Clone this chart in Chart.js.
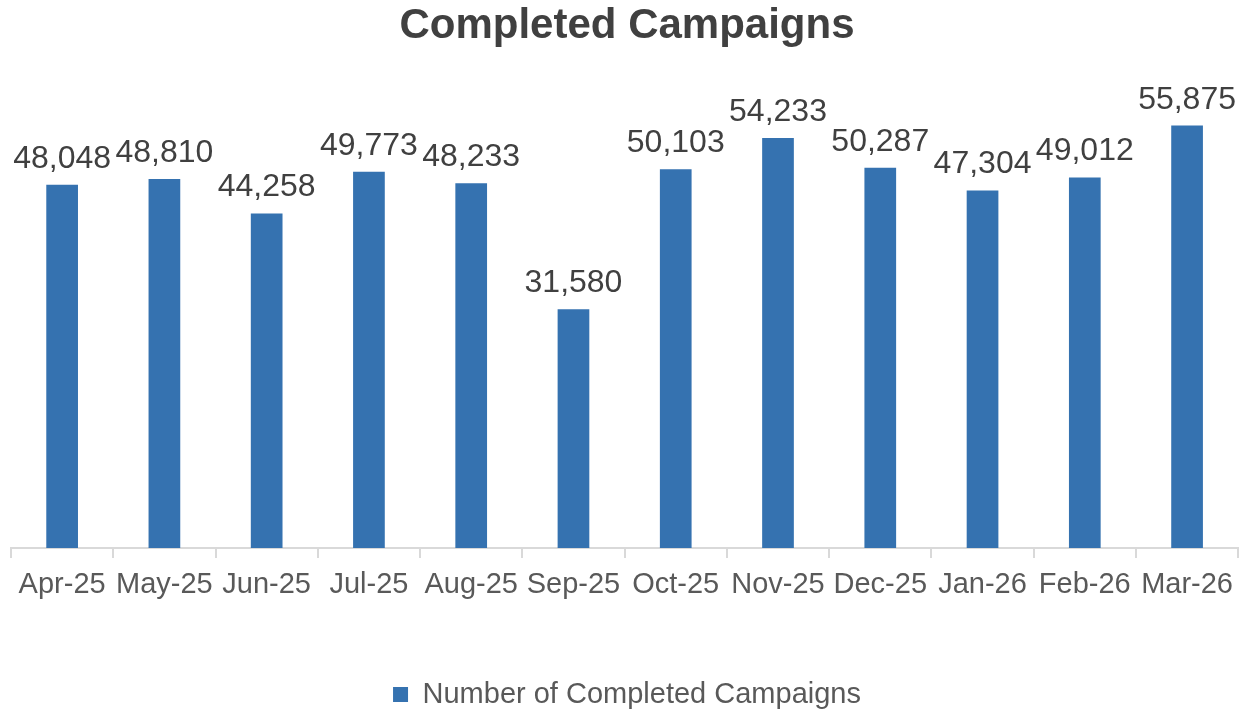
<!DOCTYPE html>
<html>
<head>
<meta charset="utf-8">
<script src="https://cdn.jsdelivr.net/npm/chart.js@4"></script>
<style>
  html, body { margin: 0; padding: 0; background: #ffffff; }
  #wrap { width: 1243px; height: 709px; }
</style>
</head>
<body>
<div id="wrap"><canvas id="campaignChart"></canvas></div>
<script>
// chart data
const months = ["Apr-25", "May-25", "Jun-25", "Jul-25", "Aug-25", "Sep-25",
                "Oct-25", "Nov-25", "Dec-25", "Jan-26", "Feb-26", "Mar-26"];
const completedCampaigns = [48048, 48810, 44258, 49773, 48233, 31580,
                            50103, 54233, 50287, 47304, 49012, 55875];
const seriesName = "Number of Completed Campaigns";

const barColor = "#3572B0";
const textColor = "#595959";
const fontFamily = "'Liberation Sans', Arial, sans-serif";

// draw the value above each bar
const valueLabels = {
    id: "valueLabels",
    afterDatasetsDraw(chart) {
        const ctx = chart.ctx;
        const meta = chart.getDatasetMeta(0);
        ctx.save();
        ctx.font = "32px " + fontFamily;
        ctx.fillStyle = "#404040";
        ctx.textAlign = "center";
        ctx.textBaseline = "alphabetic";
        meta.data.forEach(function(bar, i) {
            const value = chart.data.datasets[0].data[i];
            ctx.fillText(value.toLocaleString("en-US"), bar.x, bar.y - 17);
        });
        ctx.restore();
    }
};

const ctx = document.getElementById("campaignChart").getContext("2d");
new Chart(ctx, {
    type: "bar",
    data: {
        labels: months,
        datasets: [{
            label: seriesName,
            data: completedCampaigns,
            backgroundColor: barColor,
            borderWidth: 0,
            categoryPercentage: 1,
            barPercentage: 0.31
        }]
    },
    options: {
        responsive: true,
        maintainAspectRatio: false,
        animation: false,
        layout: {
            padding: { left: 11, right: 0, top: 0, bottom: -10 }
        },
        plugins: {
            title: {
                display: true,
                text: "Completed Campaigns",
                color: "#404040",
                font: { family: fontFamily, size: 42, weight: "bold" },
                padding: { top: 1, bottom: 43 }
            },
            legend: {
                position: "bottom",
                labels: {
                    color: textColor,
                    font: { family: fontFamily, size: 29 },
                    boxWidth: 15,
                    boxHeight: 15,
                    padding: 2
                }
            },
            tooltip: { enabled: false }
        },
        scales: {
            x: {
                grid: {
                    drawOnChartArea: false,
                    color: "#d9d9d9",
                    lineWidth: 2,
                    tickLength: 10
                },
                border: { color: "#d9d9d9", width: 2 },
                ticks: {
                    color: textColor,
                    font: { family: fontFamily, size: 29 },
                    padding: 10,
                    maxRotation: 0,
                    autoSkip: false
                },
                afterFit: function(scale) { scale.height = 130; }
            },
            y: {
                display: false,
                min: 0,
                max: 60000
            }
        }
    },
    plugins: [valueLabels]
});
</script>
</body>
</html>
